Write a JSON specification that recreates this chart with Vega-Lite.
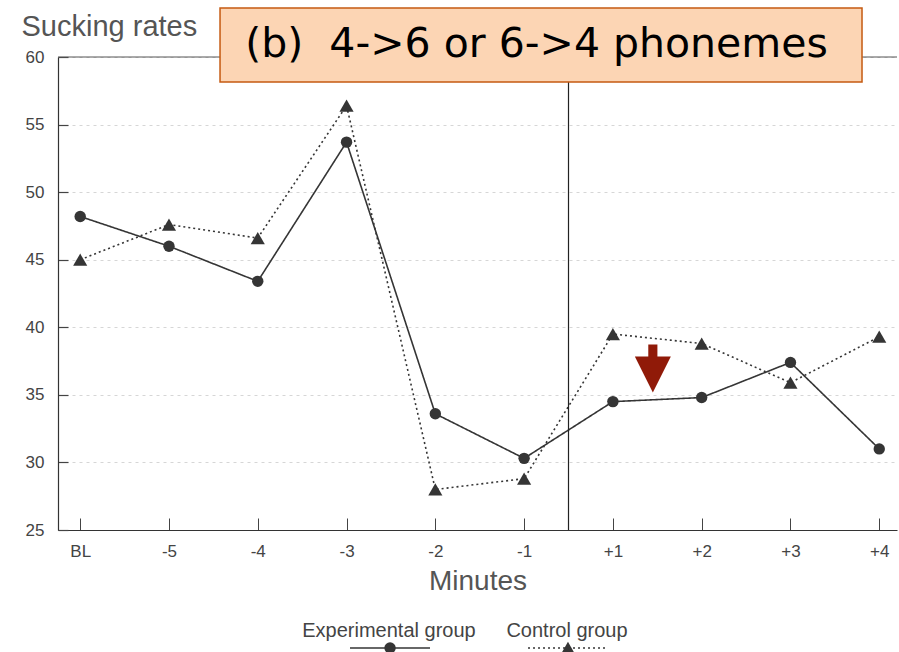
{
  "$schema": "https://vega.github.io/schema/vega-lite/v6.json",
  "width": 839,
  "height": 473,
  "autosize": "none",
  "padding": {"left": 58, "top": 57, "right": 2, "bottom": 122},
  "background": "white",
  "config": {"view": {"stroke": null}, "font": "Liberation Sans"},
  "datasets": {
    "rates": [
      {"t": 0, "minute": "BL", "group": "Experimental group", "rate": 48.2},
      {"t": 1, "minute": "-5", "group": "Experimental group", "rate": 46.0},
      {"t": 2, "minute": "-4", "group": "Experimental group", "rate": 43.4},
      {"t": 3, "minute": "-3", "group": "Experimental group", "rate": 53.7},
      {"t": 4, "minute": "-2", "group": "Experimental group", "rate": 33.6},
      {"t": 5, "minute": "-1", "group": "Experimental group", "rate": 30.3},
      {"t": 6, "minute": "+1", "group": "Experimental group", "rate": 34.5},
      {"t": 7, "minute": "+2", "group": "Experimental group", "rate": 34.8},
      {"t": 8, "minute": "+3", "group": "Experimental group", "rate": 37.4},
      {"t": 9, "minute": "+4", "group": "Experimental group", "rate": 31.0},
      {"t": 0, "minute": "BL", "group": "Control group", "rate": 45.0},
      {"t": 1, "minute": "-5", "group": "Control group", "rate": 47.6},
      {"t": 2, "minute": "-4", "group": "Control group", "rate": 46.6},
      {"t": 3, "minute": "-3", "group": "Control group", "rate": 56.4},
      {"t": 4, "minute": "-2", "group": "Control group", "rate": 28.0},
      {"t": 5, "minute": "-1", "group": "Control group", "rate": 28.8},
      {"t": 6, "minute": "+1", "group": "Control group", "rate": 39.5},
      {"t": 7, "minute": "+2", "group": "Control group", "rate": 38.8},
      {"t": 8, "minute": "+3", "group": "Control group", "rate": 35.9},
      {"t": 9, "minute": "+4", "group": "Control group", "rate": 39.3}
    ],
    "one": [{"k": 1}],
    "legend": [{"label": "Experimental group", "lx": 3.478}, {"label": "Control group", "lx": 5.483}]
  },
  "data": {"name": "rates"},
  "layer": [
    {
      "mark": {"type": "line", "color": "#353535", "strokeWidth": 1.6},
      "encoding": {
        "x": {
          "field": "t", "type": "quantitative",
          "scale": {"domain": [-0.25, 9.2], "nice": false, "zero": false},
          "axis": {
            "values": [0, 1, 2, 3, 4, 5, 6, 7, 8, 9],
            "labelExpr": "['BL','-5','-4','-3','-2','-1','+1','+2','+3','+4'][datum.value]",
            "title": "Minutes",
            "grid": false,
            "domainColor": "#333", "domainWidth": 1.2,
            "tickColor": "#444", "tickSize": -12, "tickWidth": 1,
            "labelFontSize": 17, "labelColor": "#444", "labelPadding": 25,
            "titleFontSize": 28, "titleFontWeight": "normal", "titleColor": "#555", "titlePadding": 8
          }
        },
        "y": {
          "field": "rate", "type": "quantitative",
          "scale": {"domain": [25, 60], "nice": false, "zero": false},
          "axis": {
            "values": [25, 27.5, 30, 32.5, 35, 37.5, 40, 42.5, 45, 47.5, 50, 52.5, 55, 57.5, 60],
            "labelExpr": "datum.value % 5 === 0 ? datum.label : ''",
            "title": "Sucking rates",
            "titleAngle": 0, "titleAlign": "left", "titleBaseline": "alphabetic",
            "titleX": -37, "titleY": -22,
            "titleFontSize": 29, "titleFontWeight": "normal", "titleColor": "#555",
            "domainColor": "#333", "domainWidth": 1.2,
            "tickColor": "#444",
            "tickSize": -10,
            "tickOpacity": {"condition": {"test": "datum.value % 5 === 0", "value": 1}, "value": 0.8},
            "tickWidth": {"condition": {"test": "datum.value % 5 === 0", "value": 1.2}, "value": 1},
            "labelFontSize": 17, "labelColor": "#444", "labelPadding": 24,
            "grid": true, "gridColor": "#bbb", "gridDash": [3, 4],
            "gridOpacity": {"condition": {"test": "datum.value % 5 === 0", "value": 0.6}, "value": 0}
          }
        },
        "detail": {"field": "group"},
        "strokeDash": {"field": "group", "type": "nominal",
          "scale": {"domain": ["Experimental group", "Control group"], "range": [[1, 0], [2, 3]]},
          "legend": null}
      }
    },
    {
      "mark": {"type": "point", "filled": true, "color": "#353535", "opacity": 1},
      "encoding": {
        "x": {"field": "t", "type": "quantitative"},
        "y": {"field": "rate", "type": "quantitative"},
        "shape": {"field": "group", "type": "nominal",
          "scale": {"domain": ["Experimental group", "Control group"], "range": ["circle", "triangle-up"]},
          "legend": null},
        "size": {"field": "group", "type": "nominal",
          "scale": {"domain": ["Experimental group", "Control group"], "range": [130, 200]},
          "legend": null}
      }
    },
    {
      "data": {"name": "one"},
      "mark": {"type": "rule", "color": "#555", "strokeWidth": 1},
      "encoding": {"y": {"datum": 60}}
    },
    {
      "data": {"name": "one"},
      "mark": {"type": "rule", "color": "#222", "strokeWidth": 1.2},
      "encoding": {"x": {"datum": 5.5}}
    },
    {
      "data": {"name": "one"},
      "mark": {"type": "point", "filled": true, "opacity": 1, "color": "#901A08",
        "shape": "M-0.19,-1L0.19,-1L0.19,-0.5L0.75,-0.5L0,1L-0.75,-0.5L-0.19,-0.5Z", "size": 2304},
      "encoding": {"x": {"datum": 6.45}, "y": {"datum": 36.95}}
    },
    {
      "data": {"name": "one"},
      "mark": {"type": "rect", "fill": "#FCD5B4", "stroke": "#C55A11", "strokeWidth": 1.5},
      "encoding": {"x": {"datum": 1.575}, "x2": {"datum": 8.806}, "y": {"datum": 63.63}, "y2": {"datum": 58.15}}
    },
    {
      "data": {"name": "one"},
      "mark": {"type": "text", "text": "(b)\u00a0\u00a04->6 or 6->4 phonemes", "font": "DejaVu Sans", "fontSize": 41, "color": "black", "align": "center", "baseline": "middle"},
      "encoding": {"x": {"datum": 5.14}, "y": {"datum": 60.9}}
    },
    {
      "data": {"name": "legend"},
      "mark": {"type": "text", "fontSize": 20, "color": "#444", "align": "center", "baseline": "middle"},
      "encoding": {"x": {"field": "lx", "type": "quantitative"}, "y": {"datum": 17.53}, "text": {"field": "label"}}
    },
    {
      "data": {"name": "one"},
      "mark": {"type": "rule", "color": "#353535", "strokeWidth": 1.6},
      "encoding": {"x": {"datum": 3.039}, "x2": {"datum": 3.94}, "y": {"datum": 16.27}}
    },
    {
      "data": {"name": "one"},
      "mark": {"type": "rule", "color": "#353535", "strokeWidth": 1.6, "strokeDash": [2, 3]},
      "encoding": {"x": {"datum": 5.044}, "x2": {"datum": 5.911}, "y": {"datum": 16.27}}
    },
    {
      "data": {"name": "one"},
      "mark": {"type": "point", "filled": true, "opacity": 1, "color": "#353535", "shape": "circle", "size": 130},
      "encoding": {"x": {"datum": 3.49}, "y": {"datum": 16.27}}
    },
    {
      "data": {"name": "one"},
      "mark": {"type": "point", "filled": true, "opacity": 1, "color": "#353535", "shape": "triangle-up", "size": 200},
      "encoding": {"x": {"datum": 5.494}, "y": {"datum": 16.27}}
    }
  ]
}
